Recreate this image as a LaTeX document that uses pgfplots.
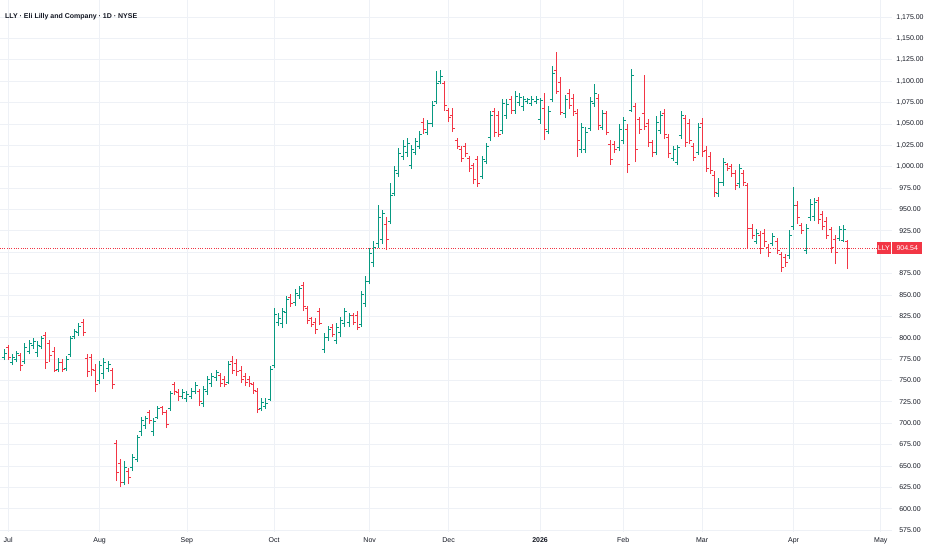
\documentclass[border=0pt]{standalone}
\usepackage{pgfplots}
\pgfplotsset{compat=1.18}
\usepackage{pgfplotstable}
\usepackage{fontspec}
\setmainfont{Liberation Sans}
\definecolor{tvgreen}{HTML}{089981}
\definecolor{tvred}{HTML}{F23645}
\definecolor{tvtext}{HTML}{131722}
\definecolor{tvgrid}{HTML}{EEF1F6}
% one OHLC bar drawn at the point (x, low); 0.854976 pt per price unit (532pt / (1194.9-572.66));
% the bar is snapped to the nearest pixel centre so that it renders crisply
\def\ohlcK{0.854976}
\pgfdeclareplotmark{ohlc}{%
  \pgfgettransformentries{\ta}{\tb}{\tc}{\td}{\tx}{\ty}%
  \pgfmathsetmacro\ohx{floor(\tx)+0.5-\tx}%
  \pgfmathsetmacro\ohl{floor(\ty)-\ty}%
  \pgfmathsetmacro\ohh{floor(\ty+(\ohlcH-\ohlcL)*\ohlcK)+1-\ty}%
  \pgfmathsetmacro\oho{floor(\ty+(\ohlcO-\ohlcL)*\ohlcK)+0.5-\ty}%
  \pgfmathsetmacro\ohc{floor(\ty+(\ohlcC-\ohlcL)*\ohlcK)+0.5-\ty}%
  \pgfpathmoveto{\pgfpoint{\ohx pt}{\ohl pt}}\pgfpathlineto{\pgfpoint{\ohx pt}{\ohh pt}}%
  \pgfpathmoveto{\pgfpoint{\ohx pt-2.5pt}{\oho pt}}\pgfpathlineto{\pgfpoint{\ohx pt}{\oho pt}}%
  \pgfpathmoveto{\pgfpoint{\ohx pt}{\ohc pt}}\pgfpathlineto{\pgfpoint{\ohx pt+2.5pt}{\ohc pt}}%
  \pgfusepathqstroke}

\pgfplotstableread{
x o h l c
-1 777 786 774 782
1 771 780 768 777
2 775 784 772 781
4 772 793 770 788
5 784 797 781 793
6 791 799 787 796
7 783 795 778 791
8 790 801 787 799
12 763 776 760 771
14 764 778 762 774
15 780 801 778 799
16 801 809 799 807
17 806 816 803 813
22 750 772 746 767
23 758 776 752 771
24 764 772 760 769
28 631 655 628 648
30 648 663 645 660
31 658 686 655 683
32 690 707 686 703
33 697 708 694 705
35 690 705 686 702
36 707 720 705 717
39 717 737 715 735
42 731 739 729 736
43 729 737 725 734
44 731 740 729 737
45 737 747 735 744
47 723 743 719 739
48 737 754 733 751
49 746 758 743 755
50 753 762 750 759
53 748 772 746 768
61 717 729 715 724
62 719 729 717 723
63 728 766 727 763
64 767 834 765 827
65 818 828 814 822
66 816 834 812 831
67 829 848 817 845
69 841 856 838 852
70 849 860 846 857
76 786 805 783 800
77 800 813 797 810
79 797 817 793 812
80 806 824 801 820
81 816 834 813 830
82 818 828 813 826
85 815 854 813 850
86 840 871 836 866
87 866 904 863 898
88 888 912 883 906
89 910 955 906 940
90 915 949 910 945
92 936 980 934 966
93 968 1000 966 995
94 992 1021 988 1015
95 1012 1031 1008 1024
96 1016 1033 1012 1027
97 1001 1025 998 1020
98 1017 1033 1014 1029
99 1024 1041 1021 1037
101 1040 1054 1037 1051
102 1050 1076 1047 1072
103 1076 1111 1074 1097
104 1099 1112 1097 1105
114 988 1012 986 1008
115 1006 1027 1004 1024
116 1034 1064 1031 1060
119 1042 1078 1039 1074
120 1060 1078 1056 1073
122 1066 1088 1062 1082
123 1075 1086 1072 1081
124 1070 1082 1066 1078
125 1076 1080 1074 1078
126 1074 1082 1072 1078
127 1076 1082 1074 1079
128 1055 1080 1051 1077
130 1041 1070 1039 1064
131 1078 1117 1076 1109
134 1062 1083 1058 1078
138 1020 1050 1017 1046
139 1020 1046 1016 1040
140 1045 1081 1042 1076
141 1074 1096 1070 1086
143 1046 1066 1043 1062
147 1022 1049 1019 1044
148 1030 1058 1027 1054
150 1066 1114 1064 1107
156 1017 1059 1014 1052
157 1042 1064 1039 1060
160 1010 1024 1007 1020
161 1005 1025 1002 1022
162 1036 1064 1033 1060
166 1017 1051 1014 1046
171 968 986 965 982
172 982 1010 978 1005
176 980 1003 976 998
180 913 926 910 922
184 910 922 908 918
188 896 925 893 920
189 930 976 926 955
192 902 932 898 928
193 940 961 937 956
194 942 963 937 958
200 916 930 914 926
201 914 931 912 926
}\uptab

\pgfplotstableread{
x o h l c
-2 800 805 786 788
0 788 791 774 777
3 779 782 762 767
9 802 806 764 771
10 793 797 772 779
11 784 789 760 762
13 771 774 760 763
18 818 821 803 806
19 776 780 754 760
20 777 780 756 763
21 762 768 737 745
25 761 764 741 745
26 676 680 633 642
27 653 657 626 630
29 644 647 629 636
34 712 715 700 703
37 718 720 710 712
38 712 715 695 698
40 745 748 733 737
41 736 739 727 731
46 737 739 721 725
51 756 758 743 746
52 751 754 743 745
54 772 778 758 762
55 770 774 756 760
56 762 766 748 751
57 755 758 744 748
58 751 754 743 746
59 745 748 735 738
60 737 741 713 716
68 847 850 836 840
71 861 865 832 836
72 834 836 817 820
73 822 824 813 815
74 818 822 805 810
75 830 834 815 817
78 812 815 801 804
83 826 828 815 818
84 826 830 809 812
91 932 940 903 915
100 1052 1056 1039 1043
105 1097 1099 1066 1072
106 1066 1068 1053 1057
107 1060 1068 1041 1045
108 1031 1033 1021 1024
109 1020 1023 1006 1010
110 1024 1027 1012 1015
111 1010 1012 994 998
112 1001 1004 980 985
113 1008 1012 977 980
117 1064 1068 1035 1040
118 1060 1064 1035 1038
121 1078 1082 1062 1066
129 1068 1086 1032 1043
132 1113 1133 1086 1088
133 1098 1104 1061 1063
135 1086 1090 1068 1072
136 1080 1084 1060 1064
137 1062 1067 1012 1030
142 1080 1084 1044 1048
144 1062 1064 1037 1040
145 1026 1030 1003 1008
146 1026 1029 1017 1020
149 1044 1049 993 1002
151 1070 1074 1006 1020
152 1055 1058 1039 1043
153 1062 1107 1043 1047
154 1050 1055 1023 1028
155 1028 1031 1012 1016
158 1062 1067 1033 1038
159 1034 1037 1011 1015
163 1056 1060 1023 1028
164 1050 1055 1027 1031
165 1024 1027 1007 1011
167 1050 1056 1012 1018
168 1019 1023 994 998
169 1012 1016 992 996
170 990 994 965 970
173 1002 1004 996 998
174 1000 1002 988 992
175 992 996 973 978
177 992 996 978 982
178 978 980 904 928
179 928 932 916 920
181 920 924 898 904
182 922 927 907 912
183 906 909 895 899
185 913 916 898 902
186 897 900 877 882
187 894 897 883 888
190 955 959 934 940
191 931 934 922 925
195 960 964 934 938
196 944 947 926 930
197 936 940 916 920
198 926 929 900 905
199 915 920 887 900
202 912 914 881 904.54
}\dntab

\begin{document}
\begin{tikzpicture}
\path[use as bounding box] (0,0) rectangle (932pt,550pt);
\begin{axis}[
  at={(0pt,18pt)}, anchor=south west,
  scale only axis, width=892pt, height=532pt,
  xmin=-1.97, xmax=212.7, ymin=572.66, ymax=1194.9,
  axis line style={draw=none},
  major tick length=0pt,
  xtick={0,22,43,64,87,106,128,148,167,189,210},
  xticklabels={Jul,Aug,Sep,Oct,Nov,Dec,\textbf{2026},Feb,Mar,Apr,May},
  ytick={575,600,...,875,925,950,...,1175},
  extra y ticks={900},
  extra y tick labels={},
  yticklabel pos=right,
  scaled y ticks=false,
  grid=major,
  major grid style={tvgrid, line width=0.7pt},
  tick label style={font=\fontsize{7}{8}\selectfont, text=tvtext},
  yticklabel style={anchor=center, xshift=18pt,
    /pgf/number format/.cd, fixed, fixed zerofill, precision=2, 1000 sep={,}, assume math mode=true},
  xticklabel style={yshift=-2pt},
]
\addplot[tvred, line width=0.45pt, dash pattern=on 1pt off 1.3pt, forget plot] coordinates {(-2,904.54) (213,904.54)};

\addplot[only marks, mark=ohlc, forget plot, color=tvgreen,
    mark options={solid, line width=1pt, draw=tvgreen},
    visualization depends on={\thisrow{o} \as \ohlcO},
    visualization depends on={\thisrow{h} \as \ohlcH},
    visualization depends on={\thisrow{l} \as \ohlcL},
    visualization depends on={\thisrow{c} \as \ohlcC}]
  table[x=x, y=l] {\uptab};
\addplot[only marks, mark=ohlc, forget plot, color=tvred,
    mark options={solid, line width=1pt, draw=tvred},
    visualization depends on={\thisrow{o} \as \ohlcO},
    visualization depends on={\thisrow{h} \as \ohlcH},
    visualization depends on={\thisrow{l} \as \ohlcL},
    visualization depends on={\thisrow{c} \as \ohlcC}]
  table[x=x, y=l] {\dntab};

\coordinate (pl) at (axis cs:212.7,904.54);
\end{axis}
\fill[white] (892pt,0pt) rectangle (932pt,18pt);
\node[fill=tvred, text=white, font=\fontsize{7}{8}\selectfont, inner sep=0pt,
  minimum height=11.5pt, minimum width=13.5pt, anchor=east] at ([xshift=-1.2pt]pl) {LLY};
\node[fill=tvred, text=white, font=\fontsize{7}{8}\selectfont, inner sep=0pt,
  minimum height=11.5pt, minimum width=30pt, anchor=west] at (pl) {904.54};
\node[anchor=west, inner sep=0pt, text=tvtext, font=\fontsize{7}{8}\selectfont\bfseries]
  at (5pt,533pt) {LLY · Eli Lilly and Company · 1D · NYSE};
\end{tikzpicture}
\end{document}
